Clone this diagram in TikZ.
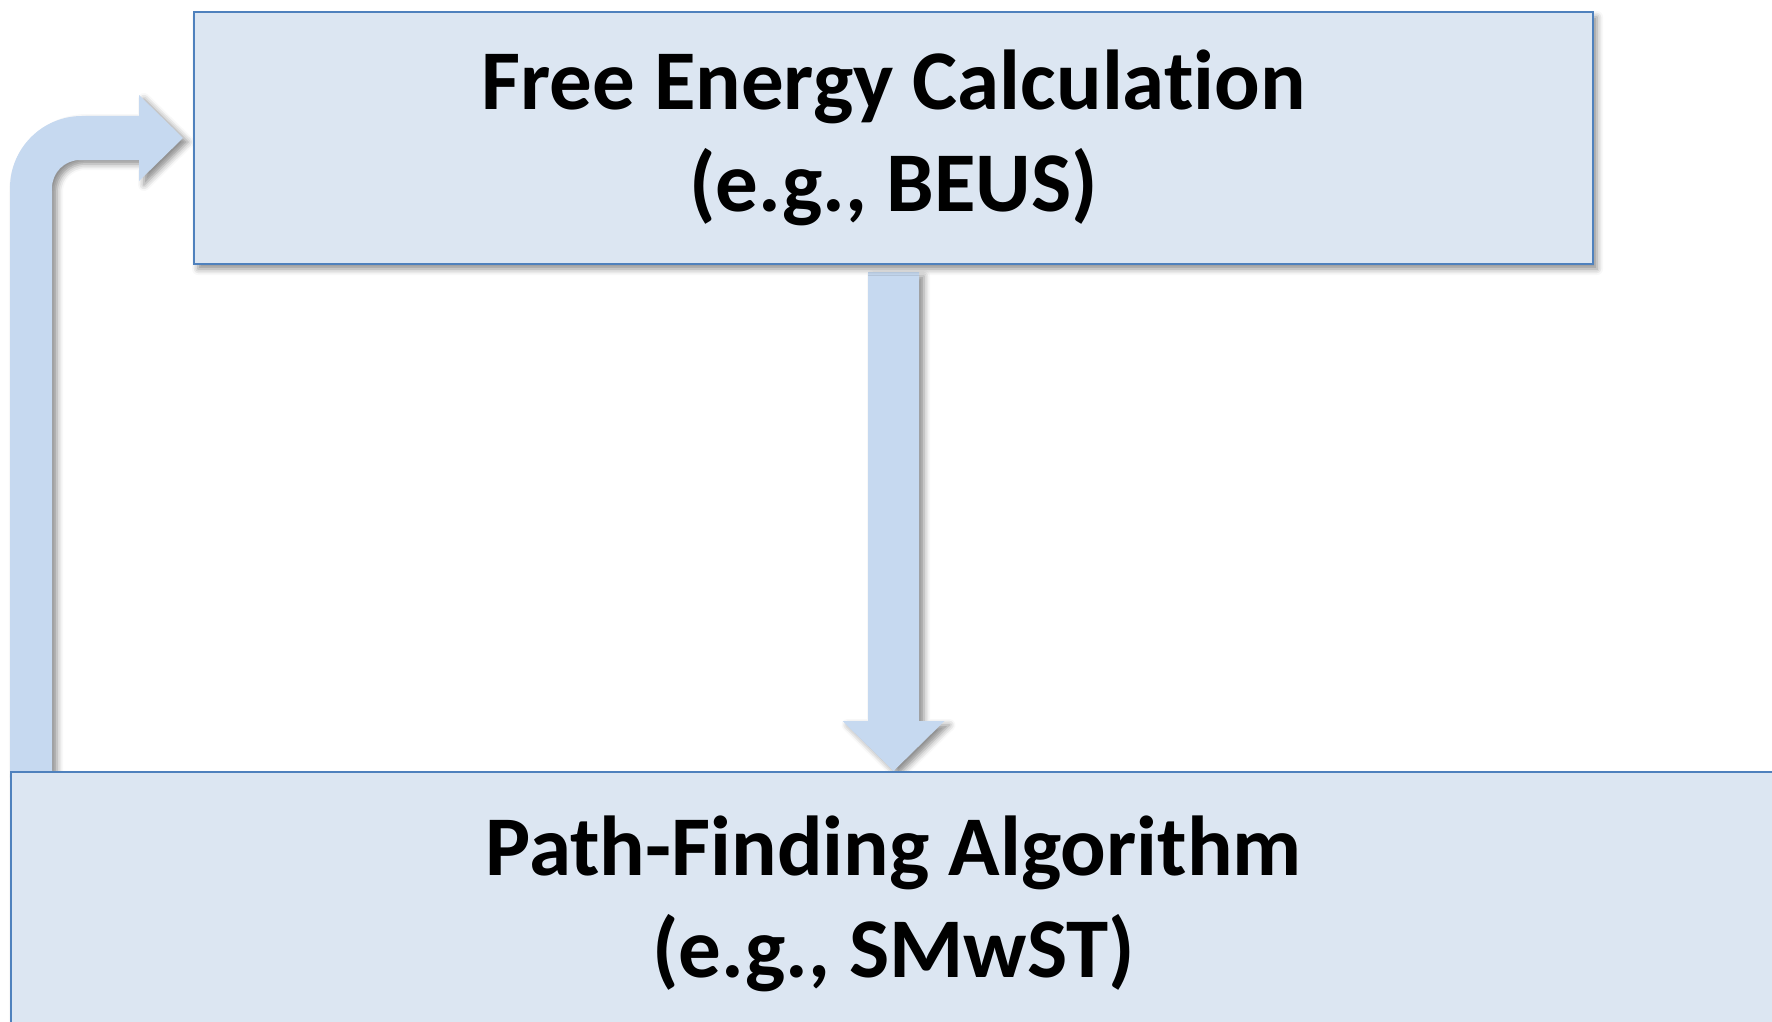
\documentclass[tikz,border=0pt]{standalone}
\usepackage{fontspec}
\setmainfont[Ligatures=NoCommon]{Carlito}
\usetikzlibrary{calc,shadows.blur,backgrounds}

\definecolor{boxfill}{RGB}{220,230,242}
\definecolor{boxline}{RGB}{79,129,189}
\definecolor{arrowfill}{RGB}{198,217,240}

\tikzset{
  stagebox/.style={draw=boxline, line width=1pt, fill=boxfill,
    align=center, inner sep=0pt,
    font=\fontsize{42.5pt}{51pt}\selectfont\bfseries,
    blur shadow={shadow xshift=2pt, shadow yshift=-2.5pt,
      shadow blur radius=3pt, shadow opacity=45}},
  blockarrow/.style={fill=arrowfill,
    blur shadow={shadow xshift=2.5pt, shadow yshift=-2pt,
      shadow blur radius=3pt, shadow opacity=45}}
}

\begin{document}
\begin{tikzpicture}[x=0.5pt,y=-0.5pt]
\useasboundingbox (0,0) rectangle (1772,1022);
\clip (0,0) rectangle (1772,1022);

% the two stages
\node[stagebox, minimum width=699.5pt, minimum height=126pt] (fe) at (893.5,138)
  {Free Energy Calculation\\(e.g., BEUS)};
\node[stagebox, minimum width=882.5pt, minimum height=132pt] (pf) at (893.5,904)
  {Path-Finding Algorithm\\(e.g., SMwST)};

\begin{scope}[on background layer]
% feedback arrow: up the left side, bending right into the upper stage
\coordinate (bs) at (pf.north west);
\coordinate (bt) at ($(fe.west)+(-10,0)$);
\fill[blockarrow] (bs) -- ($(bs |- bt)+(0,50)$)
  arc[start angle=180, end angle=270, radius=72]
  -- ($(bt)+(-44,-22)$) -- ($(bt)+(-44,-43)$) -- (bt)
  -- ($(bt)+(-44,43)$) -- ($(bt)+(-44,22)$)
  -- ($(bs |- bt)+(70,22)$)
  arc[start angle=270, end angle=180, radius=28]
  -- ($(bs)+(42,0)$) -- cycle;

% downward arrow from the upper stage to the lower stage
\coordinate (d0) at ($(fe.south)+(0,7)$);
\coordinate (d1) at (pf.north);
\fill[blockarrow] ($(d0)+(-25.5,0)$) -- ($(d0)+(25.5,0)$)
  -- ($(d1)+(25.5,-50)$) -- ($(d1)+(51,-50)$) -- (d1)
  -- ($(d1)+(-51,-50)$) -- ($(d1)+(-25.5,-50)$) -- cycle;
\end{scope}
\end{tikzpicture}
\end{document}
